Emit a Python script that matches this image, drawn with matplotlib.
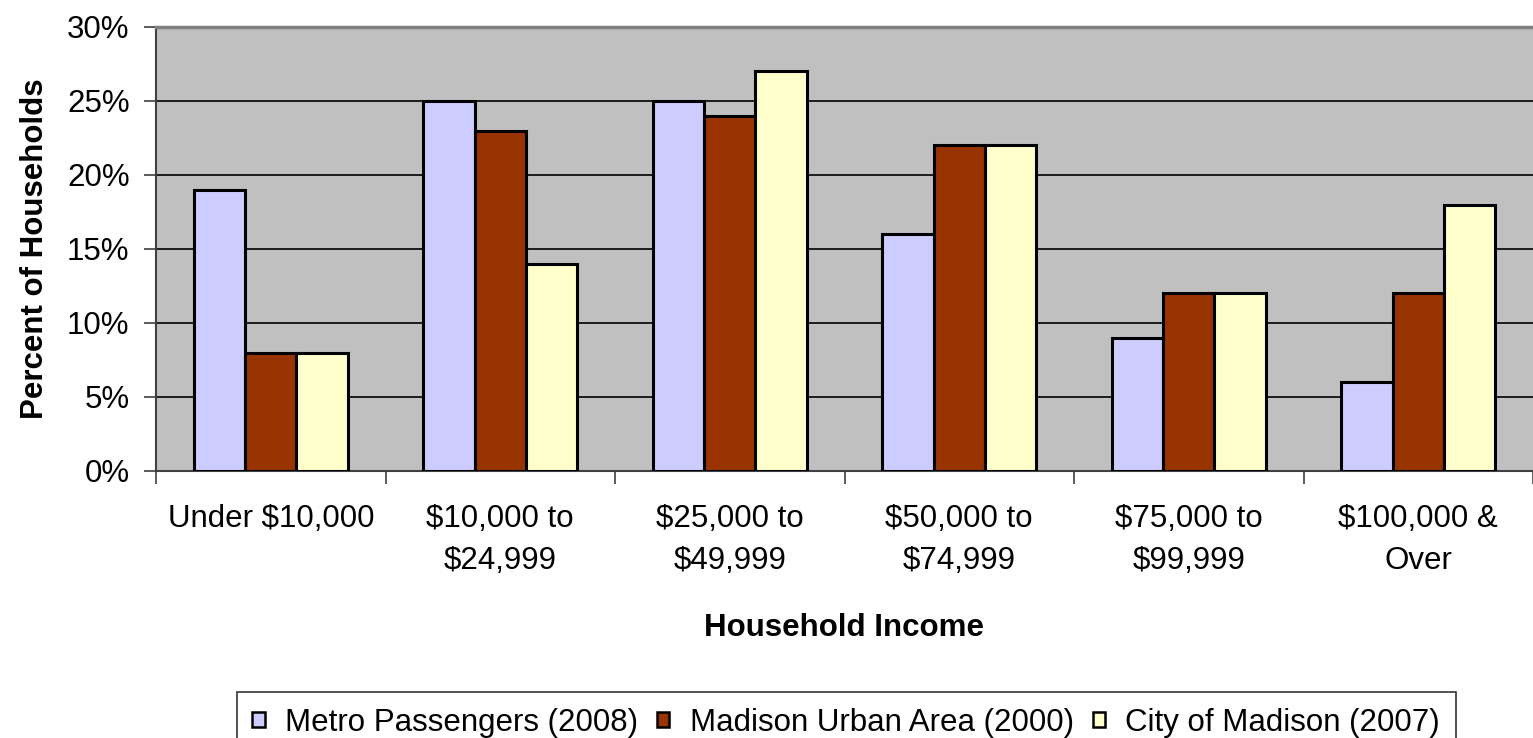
import matplotlib
matplotlib.use('Agg')
import matplotlib.pyplot as plt
import numpy as np
from matplotlib.ticker import FuncFormatter, FixedLocator

plt.rcParams['font.family'] = ['Liberation Sans', 'DejaVu Sans']

# data (percent of households)
categories = ['Under $10,000', '$10,000 to\n$24,999', '$25,000 to\n$49,999',
              '$50,000 to\n$74,999', '$75,000 to\n$99,999', '$100,000 &\nOver']
metro = [19, 25, 25, 16, 9, 6]
urban = [8, 23, 24, 22, 12, 12]
city = [8, 14, 27, 22, 12, 18]
series_names = ['Metro Passengers (2008)', 'Madison Urban Area (2000)', 'City of Madison (2007)']
colors = ['#CCCCFF', '#993300', '#FFFFCC']

fig = plt.figure(figsize=(15.33, 7.38), dpi=100)
ax = fig.add_axes([156/1533, 1-471/738, 1-156/1533, (471-27)/738])
ax.set_facecolor('#C0C0C0')

x = np.arange(len(categories))
w = 0.224
for i, (vals, name, c) in enumerate(zip([metro, urban, city], series_names, colors)):
    ax.bar(x + (i-1)*w, vals, w, color=c, edgecolor='black', linewidth=2.2,
           label=name, zorder=3)

ax.set_xlim(-0.5, len(categories)-0.5)
ax.set_ylim(0, 30)
ax.set_yticks(np.arange(0, 31, 5))
ax.yaxis.set_major_formatter(FuncFormatter(lambda v, p: '%d%%' % v))
ax.grid(axis='y', color='black', linewidth=1.2, zorder=1)
ax.set_axisbelow(True)

# category ticks at boundaries, labels centered
ax.xaxis.set_major_locator(FixedLocator(np.arange(-0.5, len(categories), 1)))
ax.xaxis.set_major_formatter(FuncFormatter(lambda v, p: ''))
ax.set_xticks(x, minor=True)
ax.set_xticklabels(categories, minor=True, fontsize=22.5, linespacing=1.5)
ax.tick_params(axis='x', which='minor', length=0, pad=24)
ax.tick_params(axis='x', which='major', length=9, width=1.2, color='#404040')
ax.tick_params(axis='y', length=9, width=1.2, color='#404040', labelsize=22.5, pad=10)

for s in ['left', 'bottom']:
    ax.spines[s].set_color('#404040')
    ax.spines[s].set_linewidth(1.5)
ax.spines['top'].set_color('#808080')
ax.spines['top'].set_linewidth(2.5)
ax.spines['right'].set_visible(False)

ax.set_xlabel('Household Income', fontsize=22.5, fontweight='bold', labelpad=27)
ax.set_ylabel('Percent of Households', fontsize=22.5, fontweight='bold', labelpad=12.5)

leg = fig.legend(loc='upper center', bbox_to_anchor=(0.552, 1-692/738), ncol=3,
                 fontsize=22.5, frameon=True, fancybox=False, edgecolor='black',
                 handlelength=0.4, handleheight=0.4, handletextpad=0.65,
                 columnspacing=0.6, borderpad=0.5, borderaxespad=0)
leg.get_frame().set_linewidth(1.2)
for h in leg.legend_handles:
    h.set_linewidth(1.8)

fig.savefig('out.png', dpi=100)
